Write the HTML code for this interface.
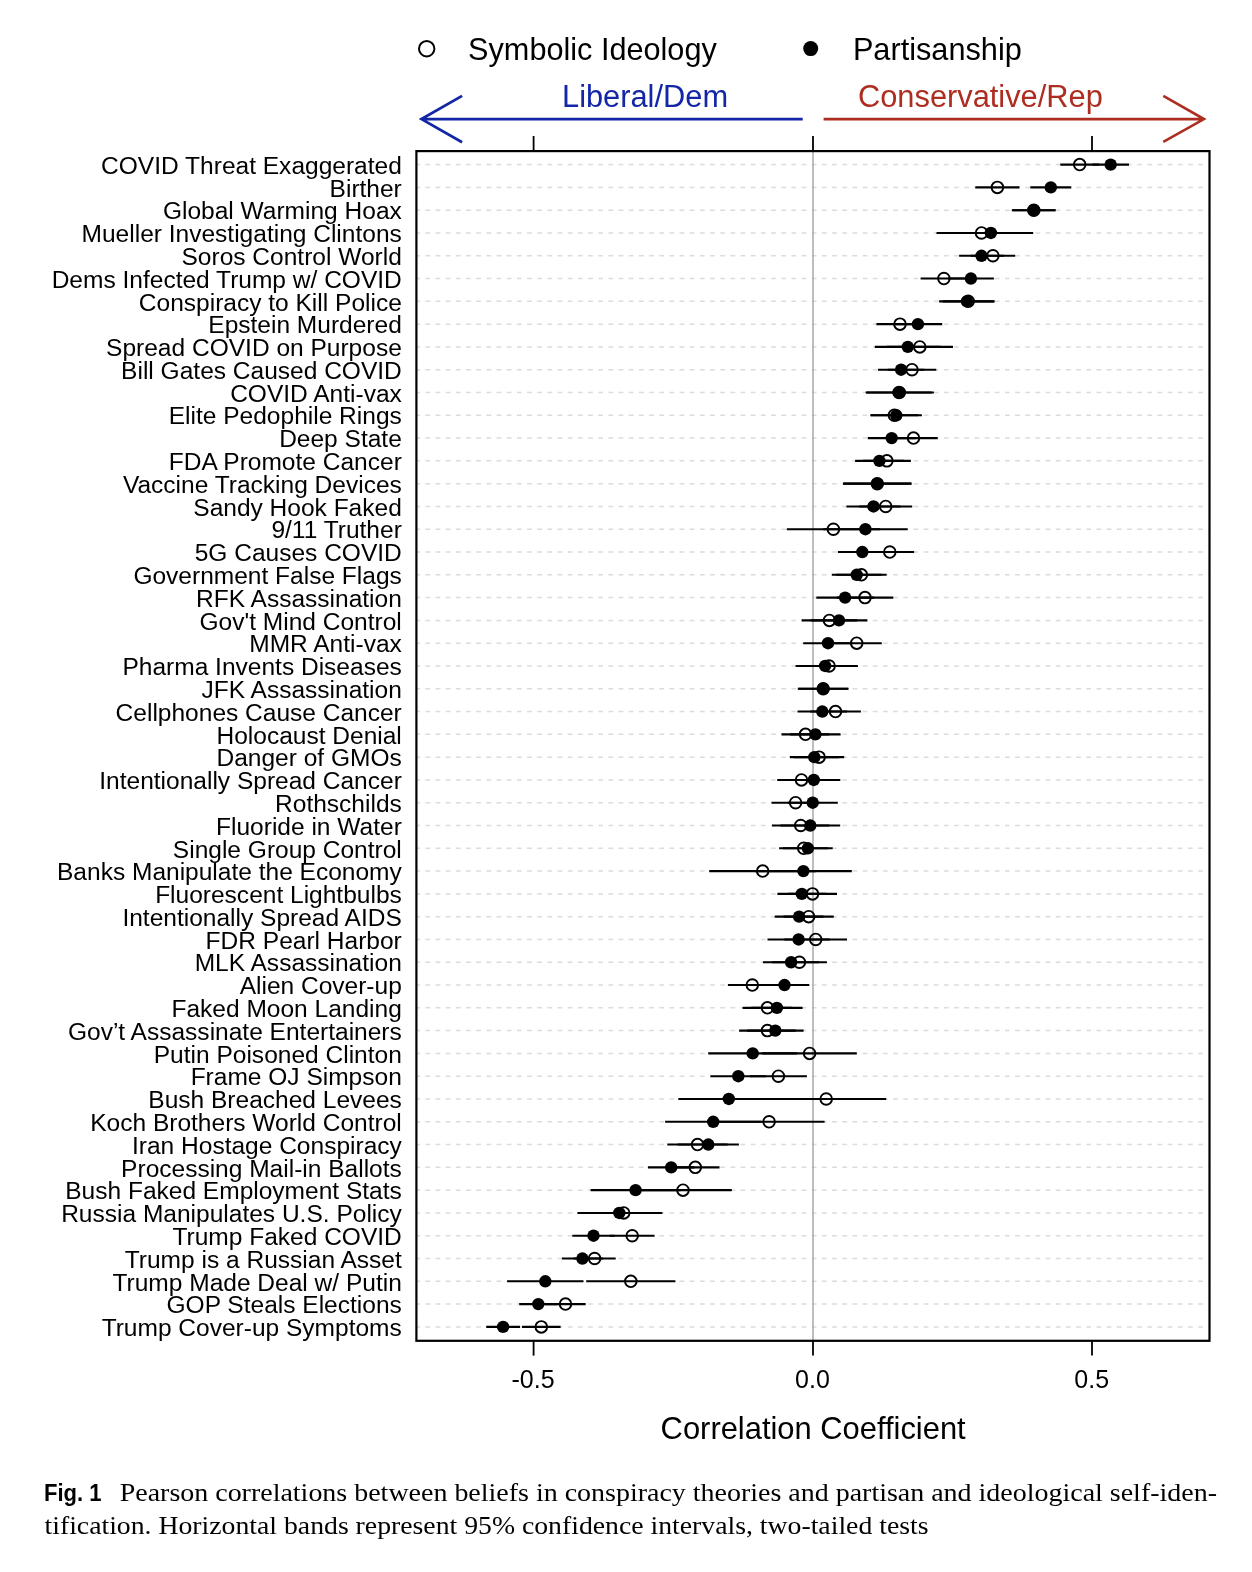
<!DOCTYPE html><html><head><meta charset="utf-8"><style>html,body{margin:0;padding:0;background:#fff}svg{display:block;will-change:transform}text{font-family:"Liberation Sans",sans-serif}</style></head><body>
<svg width="1252" height="1572" viewBox="0 0 1252 1572">
<rect x="0" y="0" width="1252" height="1572" fill="#fff"/>
<circle cx="426.7" cy="48.7" r="7.7" fill="none" stroke="#000" stroke-width="2"/>
<text x="468.1" y="60.0" font-size="30.65" fill="#000">Symbolic Ideology</text>
<circle cx="810.7" cy="48.6" r="7.5" fill="#000"/>
<text x="852.9" y="60.0" font-size="30.7" fill="#000">Partisanship</text>
<text x="562" y="106.9" font-size="30.8" fill="#1226a6">Liberal/Dem</text>
<text x="858" y="107.4" font-size="30.8" fill="#ad2d21">Conservative/Rep</text>
<path d="M802.7 119.1 H421.5 M462.1 95.9 L421.5 119.1 L462.1 142.2" fill="none" stroke="#1226a6" stroke-width="2.8" stroke-linejoin="miter"/>
<path d="M823.6 119.1 H1204 M1163.3 95.8 L1204 119.1 L1163.3 141.9" fill="none" stroke="#ad2d21" stroke-width="2.6" stroke-linejoin="miter"/>
<line x1="533.6" y1="136" x2="533.6" y2="151.1" stroke="#000" stroke-width="1.8"/>
<line x1="533.6" y1="1340.8" x2="533.6" y2="1355.6" stroke="#000" stroke-width="1.8"/>
<line x1="813.0" y1="136" x2="813.0" y2="151.1" stroke="#000" stroke-width="1.8"/>
<line x1="813.0" y1="1340.8" x2="813.0" y2="1355.6" stroke="#000" stroke-width="1.8"/>
<line x1="1092.0" y1="136" x2="1092.0" y2="151.1" stroke="#000" stroke-width="1.8"/>
<line x1="1092.0" y1="1340.8" x2="1092.0" y2="1355.6" stroke="#000" stroke-width="1.8"/>
<line x1="416.4" y1="164.60" x2="1209.5" y2="164.60" stroke="#dcdcdc" stroke-width="1.5" stroke-dasharray="4.8 5.368" stroke-dashoffset="1.2"/>
<line x1="416.4" y1="187.39" x2="1209.5" y2="187.39" stroke="#dcdcdc" stroke-width="1.5" stroke-dasharray="4.8 5.368" stroke-dashoffset="1.2"/>
<line x1="416.4" y1="210.18" x2="1209.5" y2="210.18" stroke="#dcdcdc" stroke-width="1.5" stroke-dasharray="4.8 5.368" stroke-dashoffset="1.2"/>
<line x1="416.4" y1="232.97" x2="1209.5" y2="232.97" stroke="#dcdcdc" stroke-width="1.5" stroke-dasharray="4.8 5.368" stroke-dashoffset="1.2"/>
<line x1="416.4" y1="255.76" x2="1209.5" y2="255.76" stroke="#dcdcdc" stroke-width="1.5" stroke-dasharray="4.8 5.368" stroke-dashoffset="1.2"/>
<line x1="416.4" y1="278.55" x2="1209.5" y2="278.55" stroke="#dcdcdc" stroke-width="1.5" stroke-dasharray="4.8 5.368" stroke-dashoffset="1.2"/>
<line x1="416.4" y1="301.34" x2="1209.5" y2="301.34" stroke="#dcdcdc" stroke-width="1.5" stroke-dasharray="4.8 5.368" stroke-dashoffset="1.2"/>
<line x1="416.4" y1="324.13" x2="1209.5" y2="324.13" stroke="#dcdcdc" stroke-width="1.5" stroke-dasharray="4.8 5.368" stroke-dashoffset="1.2"/>
<line x1="416.4" y1="346.92" x2="1209.5" y2="346.92" stroke="#dcdcdc" stroke-width="1.5" stroke-dasharray="4.8 5.368" stroke-dashoffset="1.2"/>
<line x1="416.4" y1="369.71" x2="1209.5" y2="369.71" stroke="#dcdcdc" stroke-width="1.5" stroke-dasharray="4.8 5.368" stroke-dashoffset="1.2"/>
<line x1="416.4" y1="392.50" x2="1209.5" y2="392.50" stroke="#dcdcdc" stroke-width="1.5" stroke-dasharray="4.8 5.368" stroke-dashoffset="1.2"/>
<line x1="416.4" y1="415.29" x2="1209.5" y2="415.29" stroke="#dcdcdc" stroke-width="1.5" stroke-dasharray="4.8 5.368" stroke-dashoffset="1.2"/>
<line x1="416.4" y1="438.08" x2="1209.5" y2="438.08" stroke="#dcdcdc" stroke-width="1.5" stroke-dasharray="4.8 5.368" stroke-dashoffset="1.2"/>
<line x1="416.4" y1="460.87" x2="1209.5" y2="460.87" stroke="#dcdcdc" stroke-width="1.5" stroke-dasharray="4.8 5.368" stroke-dashoffset="1.2"/>
<line x1="416.4" y1="483.66" x2="1209.5" y2="483.66" stroke="#dcdcdc" stroke-width="1.5" stroke-dasharray="4.8 5.368" stroke-dashoffset="1.2"/>
<line x1="416.4" y1="506.45" x2="1209.5" y2="506.45" stroke="#dcdcdc" stroke-width="1.5" stroke-dasharray="4.8 5.368" stroke-dashoffset="1.2"/>
<line x1="416.4" y1="529.24" x2="1209.5" y2="529.24" stroke="#dcdcdc" stroke-width="1.5" stroke-dasharray="4.8 5.368" stroke-dashoffset="1.2"/>
<line x1="416.4" y1="552.03" x2="1209.5" y2="552.03" stroke="#dcdcdc" stroke-width="1.5" stroke-dasharray="4.8 5.368" stroke-dashoffset="1.2"/>
<line x1="416.4" y1="574.82" x2="1209.5" y2="574.82" stroke="#dcdcdc" stroke-width="1.5" stroke-dasharray="4.8 5.368" stroke-dashoffset="1.2"/>
<line x1="416.4" y1="597.61" x2="1209.5" y2="597.61" stroke="#dcdcdc" stroke-width="1.5" stroke-dasharray="4.8 5.368" stroke-dashoffset="1.2"/>
<line x1="416.4" y1="620.40" x2="1209.5" y2="620.40" stroke="#dcdcdc" stroke-width="1.5" stroke-dasharray="4.8 5.368" stroke-dashoffset="1.2"/>
<line x1="416.4" y1="643.19" x2="1209.5" y2="643.19" stroke="#dcdcdc" stroke-width="1.5" stroke-dasharray="4.8 5.368" stroke-dashoffset="1.2"/>
<line x1="416.4" y1="665.98" x2="1209.5" y2="665.98" stroke="#dcdcdc" stroke-width="1.5" stroke-dasharray="4.8 5.368" stroke-dashoffset="1.2"/>
<line x1="416.4" y1="688.77" x2="1209.5" y2="688.77" stroke="#dcdcdc" stroke-width="1.5" stroke-dasharray="4.8 5.368" stroke-dashoffset="1.2"/>
<line x1="416.4" y1="711.56" x2="1209.5" y2="711.56" stroke="#dcdcdc" stroke-width="1.5" stroke-dasharray="4.8 5.368" stroke-dashoffset="1.2"/>
<line x1="416.4" y1="734.35" x2="1209.5" y2="734.35" stroke="#dcdcdc" stroke-width="1.5" stroke-dasharray="4.8 5.368" stroke-dashoffset="1.2"/>
<line x1="416.4" y1="757.14" x2="1209.5" y2="757.14" stroke="#dcdcdc" stroke-width="1.5" stroke-dasharray="4.8 5.368" stroke-dashoffset="1.2"/>
<line x1="416.4" y1="779.93" x2="1209.5" y2="779.93" stroke="#dcdcdc" stroke-width="1.5" stroke-dasharray="4.8 5.368" stroke-dashoffset="1.2"/>
<line x1="416.4" y1="802.72" x2="1209.5" y2="802.72" stroke="#dcdcdc" stroke-width="1.5" stroke-dasharray="4.8 5.368" stroke-dashoffset="1.2"/>
<line x1="416.4" y1="825.51" x2="1209.5" y2="825.51" stroke="#dcdcdc" stroke-width="1.5" stroke-dasharray="4.8 5.368" stroke-dashoffset="1.2"/>
<line x1="416.4" y1="848.30" x2="1209.5" y2="848.30" stroke="#dcdcdc" stroke-width="1.5" stroke-dasharray="4.8 5.368" stroke-dashoffset="1.2"/>
<line x1="416.4" y1="871.09" x2="1209.5" y2="871.09" stroke="#dcdcdc" stroke-width="1.5" stroke-dasharray="4.8 5.368" stroke-dashoffset="1.2"/>
<line x1="416.4" y1="893.88" x2="1209.5" y2="893.88" stroke="#dcdcdc" stroke-width="1.5" stroke-dasharray="4.8 5.368" stroke-dashoffset="1.2"/>
<line x1="416.4" y1="916.67" x2="1209.5" y2="916.67" stroke="#dcdcdc" stroke-width="1.5" stroke-dasharray="4.8 5.368" stroke-dashoffset="1.2"/>
<line x1="416.4" y1="939.46" x2="1209.5" y2="939.46" stroke="#dcdcdc" stroke-width="1.5" stroke-dasharray="4.8 5.368" stroke-dashoffset="1.2"/>
<line x1="416.4" y1="962.25" x2="1209.5" y2="962.25" stroke="#dcdcdc" stroke-width="1.5" stroke-dasharray="4.8 5.368" stroke-dashoffset="1.2"/>
<line x1="416.4" y1="985.04" x2="1209.5" y2="985.04" stroke="#dcdcdc" stroke-width="1.5" stroke-dasharray="4.8 5.368" stroke-dashoffset="1.2"/>
<line x1="416.4" y1="1007.83" x2="1209.5" y2="1007.83" stroke="#dcdcdc" stroke-width="1.5" stroke-dasharray="4.8 5.368" stroke-dashoffset="1.2"/>
<line x1="416.4" y1="1030.62" x2="1209.5" y2="1030.62" stroke="#dcdcdc" stroke-width="1.5" stroke-dasharray="4.8 5.368" stroke-dashoffset="1.2"/>
<line x1="416.4" y1="1053.41" x2="1209.5" y2="1053.41" stroke="#dcdcdc" stroke-width="1.5" stroke-dasharray="4.8 5.368" stroke-dashoffset="1.2"/>
<line x1="416.4" y1="1076.20" x2="1209.5" y2="1076.20" stroke="#dcdcdc" stroke-width="1.5" stroke-dasharray="4.8 5.368" stroke-dashoffset="1.2"/>
<line x1="416.4" y1="1098.99" x2="1209.5" y2="1098.99" stroke="#dcdcdc" stroke-width="1.5" stroke-dasharray="4.8 5.368" stroke-dashoffset="1.2"/>
<line x1="416.4" y1="1121.78" x2="1209.5" y2="1121.78" stroke="#dcdcdc" stroke-width="1.5" stroke-dasharray="4.8 5.368" stroke-dashoffset="1.2"/>
<line x1="416.4" y1="1144.57" x2="1209.5" y2="1144.57" stroke="#dcdcdc" stroke-width="1.5" stroke-dasharray="4.8 5.368" stroke-dashoffset="1.2"/>
<line x1="416.4" y1="1167.36" x2="1209.5" y2="1167.36" stroke="#dcdcdc" stroke-width="1.5" stroke-dasharray="4.8 5.368" stroke-dashoffset="1.2"/>
<line x1="416.4" y1="1190.15" x2="1209.5" y2="1190.15" stroke="#dcdcdc" stroke-width="1.5" stroke-dasharray="4.8 5.368" stroke-dashoffset="1.2"/>
<line x1="416.4" y1="1212.94" x2="1209.5" y2="1212.94" stroke="#dcdcdc" stroke-width="1.5" stroke-dasharray="4.8 5.368" stroke-dashoffset="1.2"/>
<line x1="416.4" y1="1235.73" x2="1209.5" y2="1235.73" stroke="#dcdcdc" stroke-width="1.5" stroke-dasharray="4.8 5.368" stroke-dashoffset="1.2"/>
<line x1="416.4" y1="1258.52" x2="1209.5" y2="1258.52" stroke="#dcdcdc" stroke-width="1.5" stroke-dasharray="4.8 5.368" stroke-dashoffset="1.2"/>
<line x1="416.4" y1="1281.31" x2="1209.5" y2="1281.31" stroke="#dcdcdc" stroke-width="1.5" stroke-dasharray="4.8 5.368" stroke-dashoffset="1.2"/>
<line x1="416.4" y1="1304.10" x2="1209.5" y2="1304.10" stroke="#dcdcdc" stroke-width="1.5" stroke-dasharray="4.8 5.368" stroke-dashoffset="1.2"/>
<line x1="416.4" y1="1326.89" x2="1209.5" y2="1326.89" stroke="#dcdcdc" stroke-width="1.5" stroke-dasharray="4.8 5.368" stroke-dashoffset="1.2"/>
<line x1="813.0" y1="151.1" x2="813.0" y2="1340.8" stroke="#a8a8a8" stroke-width="1.5"/>
<line x1="1060.3" y1="164.60" x2="1099.1" y2="164.60" stroke="#000" stroke-width="2.1"/>
<line x1="1092.4" y1="164.60" x2="1129.0" y2="164.60" stroke="#000" stroke-width="2.1"/>
<line x1="975.3" y1="187.39" x2="1019.5" y2="187.39" stroke="#000" stroke-width="2.1"/>
<line x1="1030.3" y1="187.39" x2="1071.3" y2="187.39" stroke="#000" stroke-width="2.1"/>
<line x1="1011.8" y1="210.18" x2="1055.8" y2="210.18" stroke="#000" stroke-width="2.1"/>
<line x1="1012.4" y1="210.18" x2="1055.2" y2="210.18" stroke="#000" stroke-width="2.1"/>
<line x1="936.5" y1="232.97" x2="1026.5" y2="232.97" stroke="#000" stroke-width="2.1"/>
<line x1="948.6" y1="232.97" x2="1033.2" y2="232.97" stroke="#000" stroke-width="2.1"/>
<line x1="959.1" y1="255.76" x2="1003.9" y2="255.76" stroke="#000" stroke-width="2.1"/>
<line x1="970.6" y1="255.76" x2="1015.2" y2="255.76" stroke="#000" stroke-width="2.1"/>
<line x1="920.6" y1="278.55" x2="967.2" y2="278.55" stroke="#000" stroke-width="2.1"/>
<line x1="947.9" y1="278.55" x2="993.9" y2="278.55" stroke="#000" stroke-width="2.1"/>
<line x1="939.1" y1="301.34" x2="994.7" y2="301.34" stroke="#000" stroke-width="2.1"/>
<line x1="942.6" y1="301.34" x2="993.8" y2="301.34" stroke="#000" stroke-width="2.1"/>
<line x1="876.4" y1="324.13" x2="923.6" y2="324.13" stroke="#000" stroke-width="2.1"/>
<line x1="893.6" y1="324.13" x2="942.2" y2="324.13" stroke="#000" stroke-width="2.1"/>
<line x1="874.8" y1="346.92" x2="940.8" y2="346.92" stroke="#000" stroke-width="2.1"/>
<line x1="886.6" y1="346.92" x2="953.0" y2="346.92" stroke="#000" stroke-width="2.1"/>
<line x1="878.0" y1="369.71" x2="924.2" y2="369.71" stroke="#000" stroke-width="2.1"/>
<line x1="887.7" y1="369.71" x2="936.3" y2="369.71" stroke="#000" stroke-width="2.1"/>
<line x1="866.5" y1="392.50" x2="931.5" y2="392.50" stroke="#000" stroke-width="2.1"/>
<line x1="865.7" y1="392.50" x2="933.9" y2="392.50" stroke="#000" stroke-width="2.1"/>
<line x1="870.4" y1="415.29" x2="918.4" y2="415.29" stroke="#000" stroke-width="2.1"/>
<line x1="870.7" y1="415.29" x2="921.9" y2="415.29" stroke="#000" stroke-width="2.1"/>
<line x1="867.8" y1="438.08" x2="915.6" y2="438.08" stroke="#000" stroke-width="2.1"/>
<line x1="889.3" y1="438.08" x2="937.7" y2="438.08" stroke="#000" stroke-width="2.1"/>
<line x1="855.1" y1="460.87" x2="903.7" y2="460.87" stroke="#000" stroke-width="2.1"/>
<line x1="862.9" y1="460.87" x2="910.9" y2="460.87" stroke="#000" stroke-width="2.1"/>
<line x1="843.2" y1="483.66" x2="911.4" y2="483.66" stroke="#000" stroke-width="2.1"/>
<line x1="843.1" y1="483.66" x2="911.5" y2="483.66" stroke="#000" stroke-width="2.1"/>
<line x1="846.4" y1="506.45" x2="900.6" y2="506.45" stroke="#000" stroke-width="2.1"/>
<line x1="859.2" y1="506.45" x2="912.2" y2="506.45" stroke="#000" stroke-width="2.1"/>
<line x1="786.8" y1="529.24" x2="880.0" y2="529.24" stroke="#000" stroke-width="2.1"/>
<line x1="823.1" y1="529.24" x2="907.7" y2="529.24" stroke="#000" stroke-width="2.1"/>
<line x1="837.9" y1="552.03" x2="886.7" y2="552.03" stroke="#000" stroke-width="2.1"/>
<line x1="865.5" y1="552.03" x2="914.1" y2="552.03" stroke="#000" stroke-width="2.1"/>
<line x1="831.8" y1="574.82" x2="881.6" y2="574.82" stroke="#000" stroke-width="2.1"/>
<line x1="836.2" y1="574.82" x2="886.6" y2="574.82" stroke="#000" stroke-width="2.1"/>
<line x1="816.3" y1="597.61" x2="873.9" y2="597.61" stroke="#000" stroke-width="2.1"/>
<line x1="836.7" y1="597.61" x2="893.3" y2="597.61" stroke="#000" stroke-width="2.1"/>
<line x1="801.6" y1="620.40" x2="857.2" y2="620.40" stroke="#000" stroke-width="2.1"/>
<line x1="810.6" y1="620.40" x2="867.4" y2="620.40" stroke="#000" stroke-width="2.1"/>
<line x1="803.2" y1="643.19" x2="852.8" y2="643.19" stroke="#000" stroke-width="2.1"/>
<line x1="831.6" y1="643.19" x2="881.8" y2="643.19" stroke="#000" stroke-width="2.1"/>
<line x1="795.6" y1="665.98" x2="854.6" y2="665.98" stroke="#000" stroke-width="2.1"/>
<line x1="800.3" y1="665.98" x2="857.9" y2="665.98" stroke="#000" stroke-width="2.1"/>
<line x1="798.4" y1="688.77" x2="848.0" y2="688.77" stroke="#000" stroke-width="2.1"/>
<line x1="797.8" y1="688.77" x2="848.6" y2="688.77" stroke="#000" stroke-width="2.1"/>
<line x1="797.5" y1="711.56" x2="847.1" y2="711.56" stroke="#000" stroke-width="2.1"/>
<line x1="810.1" y1="711.56" x2="860.9" y2="711.56" stroke="#000" stroke-width="2.1"/>
<line x1="781.5" y1="734.35" x2="829.5" y2="734.35" stroke="#000" stroke-width="2.1"/>
<line x1="790.2" y1="734.35" x2="840.6" y2="734.35" stroke="#000" stroke-width="2.1"/>
<line x1="789.8" y1="757.14" x2="838.8" y2="757.14" stroke="#000" stroke-width="2.1"/>
<line x1="794.0" y1="757.14" x2="844.2" y2="757.14" stroke="#000" stroke-width="2.1"/>
<line x1="777.2" y1="779.93" x2="825.8" y2="779.93" stroke="#000" stroke-width="2.1"/>
<line x1="787.3" y1="779.93" x2="840.3" y2="779.93" stroke="#000" stroke-width="2.1"/>
<line x1="771.5" y1="802.72" x2="819.7" y2="802.72" stroke="#000" stroke-width="2.1"/>
<line x1="787.6" y1="802.72" x2="837.8" y2="802.72" stroke="#000" stroke-width="2.1"/>
<line x1="772.0" y1="825.51" x2="829.4" y2="825.51" stroke="#000" stroke-width="2.1"/>
<line x1="780.4" y1="825.51" x2="840.2" y2="825.51" stroke="#000" stroke-width="2.1"/>
<line x1="779.1" y1="848.30" x2="828.3" y2="848.30" stroke="#000" stroke-width="2.1"/>
<line x1="783.1" y1="848.30" x2="832.7" y2="848.30" stroke="#000" stroke-width="2.1"/>
<line x1="709.2" y1="871.09" x2="816.2" y2="871.09" stroke="#000" stroke-width="2.1"/>
<line x1="755.0" y1="871.09" x2="851.8" y2="871.09" stroke="#000" stroke-width="2.1"/>
<line x1="777.4" y1="893.88" x2="826.2" y2="893.88" stroke="#000" stroke-width="2.1"/>
<line x1="788.0" y1="893.88" x2="837.0" y2="893.88" stroke="#000" stroke-width="2.1"/>
<line x1="774.7" y1="916.67" x2="823.5" y2="916.67" stroke="#000" stroke-width="2.1"/>
<line x1="783.6" y1="916.67" x2="833.8" y2="916.67" stroke="#000" stroke-width="2.1"/>
<line x1="767.5" y1="939.46" x2="829.7" y2="939.46" stroke="#000" stroke-width="2.1"/>
<line x1="784.4" y1="939.46" x2="847.0" y2="939.46" stroke="#000" stroke-width="2.1"/>
<line x1="763.0" y1="962.25" x2="819.2" y2="962.25" stroke="#000" stroke-width="2.1"/>
<line x1="771.9" y1="962.25" x2="826.9" y2="962.25" stroke="#000" stroke-width="2.1"/>
<line x1="727.9" y1="985.04" x2="776.7" y2="985.04" stroke="#000" stroke-width="2.1"/>
<line x1="759.7" y1="985.04" x2="809.3" y2="985.04" stroke="#000" stroke-width="2.1"/>
<line x1="742.6" y1="1007.83" x2="792.2" y2="1007.83" stroke="#000" stroke-width="2.1"/>
<line x1="751.2" y1="1007.83" x2="802.6" y2="1007.83" stroke="#000" stroke-width="2.1"/>
<line x1="739.1" y1="1030.62" x2="795.7" y2="1030.62" stroke="#000" stroke-width="2.1"/>
<line x1="747.0" y1="1030.62" x2="803.6" y2="1030.62" stroke="#000" stroke-width="2.1"/>
<line x1="708.2" y1="1053.41" x2="797.2" y2="1053.41" stroke="#000" stroke-width="2.1"/>
<line x1="762.4" y1="1053.41" x2="856.8" y2="1053.41" stroke="#000" stroke-width="2.1"/>
<line x1="710.4" y1="1076.20" x2="766.2" y2="1076.20" stroke="#000" stroke-width="2.1"/>
<line x1="749.9" y1="1076.20" x2="806.9" y2="1076.20" stroke="#000" stroke-width="2.1"/>
<line x1="678.3" y1="1098.99" x2="779.3" y2="1098.99" stroke="#000" stroke-width="2.1"/>
<line x1="766.2" y1="1098.99" x2="886.2" y2="1098.99" stroke="#000" stroke-width="2.1"/>
<line x1="665.1" y1="1121.78" x2="761.3" y2="1121.78" stroke="#000" stroke-width="2.1"/>
<line x1="713.6" y1="1121.78" x2="824.6" y2="1121.78" stroke="#000" stroke-width="2.1"/>
<line x1="667.3" y1="1144.57" x2="727.7" y2="1144.57" stroke="#000" stroke-width="2.1"/>
<line x1="677.7" y1="1144.57" x2="738.9" y2="1144.57" stroke="#000" stroke-width="2.1"/>
<line x1="647.9" y1="1167.36" x2="694.5" y2="1167.36" stroke="#000" stroke-width="2.1"/>
<line x1="671.1" y1="1167.36" x2="719.5" y2="1167.36" stroke="#000" stroke-width="2.1"/>
<line x1="590.6" y1="1190.15" x2="680.6" y2="1190.15" stroke="#000" stroke-width="2.1"/>
<line x1="634.2" y1="1190.15" x2="731.8" y2="1190.15" stroke="#000" stroke-width="2.1"/>
<line x1="577.4" y1="1212.94" x2="661.2" y2="1212.94" stroke="#000" stroke-width="2.1"/>
<line x1="585.0" y1="1212.94" x2="662.4" y2="1212.94" stroke="#000" stroke-width="2.1"/>
<line x1="572.3" y1="1235.73" x2="614.7" y2="1235.73" stroke="#000" stroke-width="2.1"/>
<line x1="609.8" y1="1235.73" x2="654.6" y2="1235.73" stroke="#000" stroke-width="2.1"/>
<line x1="561.9" y1="1258.52" x2="602.9" y2="1258.52" stroke="#000" stroke-width="2.1"/>
<line x1="573.5" y1="1258.52" x2="615.7" y2="1258.52" stroke="#000" stroke-width="2.1"/>
<line x1="507.1" y1="1281.31" x2="583.5" y2="1281.31" stroke="#000" stroke-width="2.1"/>
<line x1="586.2" y1="1281.31" x2="675.4" y2="1281.31" stroke="#000" stroke-width="2.1"/>
<line x1="519.2" y1="1304.10" x2="557.4" y2="1304.10" stroke="#000" stroke-width="2.1"/>
<line x1="545.3" y1="1304.10" x2="585.7" y2="1304.10" stroke="#000" stroke-width="2.1"/>
<line x1="486.2" y1="1326.89" x2="520.0" y2="1326.89" stroke="#000" stroke-width="2.1"/>
<line x1="522.0" y1="1326.89" x2="560.6" y2="1326.89" stroke="#000" stroke-width="2.1"/>
<circle cx="1110.7" cy="164.60" r="6.2" fill="#000"/>
<circle cx="1079.7" cy="164.60" r="5.8" fill="none" stroke="#000" stroke-width="1.9"/>
<circle cx="1050.8" cy="187.39" r="6.2" fill="#000"/>
<circle cx="997.4" cy="187.39" r="5.8" fill="none" stroke="#000" stroke-width="1.9"/>
<circle cx="1033.8" cy="210.18" r="6.2" fill="#000"/>
<circle cx="1033.8" cy="210.18" r="5.8" fill="none" stroke="#000" stroke-width="1.9"/>
<circle cx="990.9" cy="232.97" r="6.2" fill="#000"/>
<circle cx="981.5" cy="232.97" r="5.8" fill="none" stroke="#000" stroke-width="1.9"/>
<circle cx="981.5" cy="255.76" r="6.2" fill="#000"/>
<circle cx="992.9" cy="255.76" r="5.8" fill="none" stroke="#000" stroke-width="1.9"/>
<circle cx="970.9" cy="278.55" r="6.2" fill="#000"/>
<circle cx="943.9" cy="278.55" r="5.8" fill="none" stroke="#000" stroke-width="1.9"/>
<circle cx="966.9" cy="301.34" r="6.2" fill="#000"/>
<circle cx="968.2" cy="301.34" r="5.8" fill="none" stroke="#000" stroke-width="1.9"/>
<circle cx="917.9" cy="324.13" r="6.2" fill="#000"/>
<circle cx="900.0" cy="324.13" r="5.8" fill="none" stroke="#000" stroke-width="1.9"/>
<circle cx="907.8" cy="346.92" r="6.2" fill="#000"/>
<circle cx="919.8" cy="346.92" r="5.8" fill="none" stroke="#000" stroke-width="1.9"/>
<circle cx="901.1" cy="369.71" r="6.2" fill="#000"/>
<circle cx="912.0" cy="369.71" r="5.8" fill="none" stroke="#000" stroke-width="1.9"/>
<circle cx="899.8" cy="392.50" r="6.2" fill="#000"/>
<circle cx="899.0" cy="392.50" r="5.8" fill="none" stroke="#000" stroke-width="1.9"/>
<circle cx="896.3" cy="415.29" r="6.2" fill="#000"/>
<circle cx="894.4" cy="415.29" r="5.8" fill="none" stroke="#000" stroke-width="1.9"/>
<circle cx="891.7" cy="438.08" r="6.2" fill="#000"/>
<circle cx="913.5" cy="438.08" r="5.8" fill="none" stroke="#000" stroke-width="1.9"/>
<circle cx="879.4" cy="460.87" r="6.2" fill="#000"/>
<circle cx="886.9" cy="460.87" r="5.8" fill="none" stroke="#000" stroke-width="1.9"/>
<circle cx="877.3" cy="483.66" r="6.2" fill="#000"/>
<circle cx="877.3" cy="483.66" r="5.8" fill="none" stroke="#000" stroke-width="1.9"/>
<circle cx="873.5" cy="506.45" r="6.2" fill="#000"/>
<circle cx="885.7" cy="506.45" r="5.8" fill="none" stroke="#000" stroke-width="1.9"/>
<circle cx="865.4" cy="529.24" r="6.2" fill="#000"/>
<circle cx="833.4" cy="529.24" r="5.8" fill="none" stroke="#000" stroke-width="1.9"/>
<circle cx="862.3" cy="552.03" r="6.2" fill="#000"/>
<circle cx="889.8" cy="552.03" r="5.8" fill="none" stroke="#000" stroke-width="1.9"/>
<circle cx="856.7" cy="574.82" r="6.2" fill="#000"/>
<circle cx="861.4" cy="574.82" r="5.8" fill="none" stroke="#000" stroke-width="1.9"/>
<circle cx="845.1" cy="597.61" r="6.2" fill="#000"/>
<circle cx="865.0" cy="597.61" r="5.8" fill="none" stroke="#000" stroke-width="1.9"/>
<circle cx="839.0" cy="620.40" r="6.2" fill="#000"/>
<circle cx="829.4" cy="620.40" r="5.8" fill="none" stroke="#000" stroke-width="1.9"/>
<circle cx="828.0" cy="643.19" r="6.2" fill="#000"/>
<circle cx="856.7" cy="643.19" r="5.8" fill="none" stroke="#000" stroke-width="1.9"/>
<circle cx="825.1" cy="665.98" r="6.2" fill="#000"/>
<circle cx="829.1" cy="665.98" r="5.8" fill="none" stroke="#000" stroke-width="1.9"/>
<circle cx="823.2" cy="688.77" r="6.2" fill="#000"/>
<circle cx="823.2" cy="688.77" r="5.8" fill="none" stroke="#000" stroke-width="1.9"/>
<circle cx="822.3" cy="711.56" r="6.2" fill="#000"/>
<circle cx="835.5" cy="711.56" r="5.8" fill="none" stroke="#000" stroke-width="1.9"/>
<circle cx="815.4" cy="734.35" r="6.2" fill="#000"/>
<circle cx="805.5" cy="734.35" r="5.8" fill="none" stroke="#000" stroke-width="1.9"/>
<circle cx="814.3" cy="757.14" r="6.2" fill="#000"/>
<circle cx="819.1" cy="757.14" r="5.8" fill="none" stroke="#000" stroke-width="1.9"/>
<circle cx="813.8" cy="779.93" r="6.2" fill="#000"/>
<circle cx="801.5" cy="779.93" r="5.8" fill="none" stroke="#000" stroke-width="1.9"/>
<circle cx="812.7" cy="802.72" r="6.2" fill="#000"/>
<circle cx="795.6" cy="802.72" r="5.8" fill="none" stroke="#000" stroke-width="1.9"/>
<circle cx="810.3" cy="825.51" r="6.2" fill="#000"/>
<circle cx="800.7" cy="825.51" r="5.8" fill="none" stroke="#000" stroke-width="1.9"/>
<circle cx="807.9" cy="848.30" r="6.2" fill="#000"/>
<circle cx="803.7" cy="848.30" r="5.8" fill="none" stroke="#000" stroke-width="1.9"/>
<circle cx="803.4" cy="871.09" r="6.2" fill="#000"/>
<circle cx="762.7" cy="871.09" r="5.8" fill="none" stroke="#000" stroke-width="1.9"/>
<circle cx="801.8" cy="893.88" r="6.2" fill="#000"/>
<circle cx="812.5" cy="893.88" r="5.8" fill="none" stroke="#000" stroke-width="1.9"/>
<circle cx="799.1" cy="916.67" r="6.2" fill="#000"/>
<circle cx="808.7" cy="916.67" r="5.8" fill="none" stroke="#000" stroke-width="1.9"/>
<circle cx="798.6" cy="939.46" r="6.2" fill="#000"/>
<circle cx="815.7" cy="939.46" r="5.8" fill="none" stroke="#000" stroke-width="1.9"/>
<circle cx="791.1" cy="962.25" r="6.2" fill="#000"/>
<circle cx="799.4" cy="962.25" r="5.8" fill="none" stroke="#000" stroke-width="1.9"/>
<circle cx="784.5" cy="985.04" r="6.2" fill="#000"/>
<circle cx="752.3" cy="985.04" r="5.8" fill="none" stroke="#000" stroke-width="1.9"/>
<circle cx="776.9" cy="1007.83" r="6.2" fill="#000"/>
<circle cx="767.4" cy="1007.83" r="5.8" fill="none" stroke="#000" stroke-width="1.9"/>
<circle cx="775.3" cy="1030.62" r="6.2" fill="#000"/>
<circle cx="767.4" cy="1030.62" r="5.8" fill="none" stroke="#000" stroke-width="1.9"/>
<circle cx="752.7" cy="1053.41" r="6.2" fill="#000"/>
<circle cx="809.6" cy="1053.41" r="5.8" fill="none" stroke="#000" stroke-width="1.9"/>
<circle cx="738.3" cy="1076.20" r="6.2" fill="#000"/>
<circle cx="778.4" cy="1076.20" r="5.8" fill="none" stroke="#000" stroke-width="1.9"/>
<circle cx="728.8" cy="1098.99" r="6.2" fill="#000"/>
<circle cx="826.2" cy="1098.99" r="5.8" fill="none" stroke="#000" stroke-width="1.9"/>
<circle cx="713.2" cy="1121.78" r="6.2" fill="#000"/>
<circle cx="769.1" cy="1121.78" r="5.8" fill="none" stroke="#000" stroke-width="1.9"/>
<circle cx="708.3" cy="1144.57" r="6.2" fill="#000"/>
<circle cx="697.5" cy="1144.57" r="5.8" fill="none" stroke="#000" stroke-width="1.9"/>
<circle cx="671.2" cy="1167.36" r="6.2" fill="#000"/>
<circle cx="695.3" cy="1167.36" r="5.8" fill="none" stroke="#000" stroke-width="1.9"/>
<circle cx="635.6" cy="1190.15" r="6.2" fill="#000"/>
<circle cx="683.0" cy="1190.15" r="5.8" fill="none" stroke="#000" stroke-width="1.9"/>
<circle cx="619.3" cy="1212.94" r="6.2" fill="#000"/>
<circle cx="623.7" cy="1212.94" r="5.8" fill="none" stroke="#000" stroke-width="1.9"/>
<circle cx="593.5" cy="1235.73" r="6.2" fill="#000"/>
<circle cx="632.2" cy="1235.73" r="5.8" fill="none" stroke="#000" stroke-width="1.9"/>
<circle cx="582.4" cy="1258.52" r="6.2" fill="#000"/>
<circle cx="594.6" cy="1258.52" r="5.8" fill="none" stroke="#000" stroke-width="1.9"/>
<circle cx="545.3" cy="1281.31" r="6.2" fill="#000"/>
<circle cx="630.8" cy="1281.31" r="5.8" fill="none" stroke="#000" stroke-width="1.9"/>
<circle cx="538.3" cy="1304.10" r="6.2" fill="#000"/>
<circle cx="565.5" cy="1304.10" r="5.8" fill="none" stroke="#000" stroke-width="1.9"/>
<circle cx="503.1" cy="1326.89" r="6.2" fill="#000"/>
<circle cx="541.3" cy="1326.89" r="5.8" fill="none" stroke="#000" stroke-width="1.9"/>
<rect x="416.4" y="151.1" width="793.1" height="1189.7" fill="none" stroke="#000" stroke-width="2.2"/>
<text x="401.8" y="173.80" font-size="24.52" text-anchor="end" fill="#000">COVID Threat Exaggerated</text>
<text x="401.8" y="196.59" font-size="24.52" text-anchor="end" fill="#000">Birther</text>
<text x="401.8" y="219.38" font-size="24.52" text-anchor="end" fill="#000">Global Warming Hoax</text>
<text x="401.8" y="242.17" font-size="24.52" text-anchor="end" fill="#000">Mueller Investigating Clintons</text>
<text x="401.8" y="264.96" font-size="24.52" text-anchor="end" fill="#000">Soros Control World</text>
<text x="401.8" y="287.75" font-size="24.52" text-anchor="end" fill="#000">Dems Infected Trump w/ COVID</text>
<text x="401.8" y="310.54" font-size="24.52" text-anchor="end" fill="#000">Conspiracy to Kill Police</text>
<text x="401.8" y="333.33" font-size="24.52" text-anchor="end" fill="#000">Epstein Murdered</text>
<text x="401.8" y="356.12" font-size="24.52" text-anchor="end" fill="#000">Spread COVID on Purpose</text>
<text x="401.8" y="378.91" font-size="24.52" text-anchor="end" fill="#000">Bill Gates Caused COVID</text>
<text x="401.8" y="401.70" font-size="24.52" text-anchor="end" fill="#000">COVID Anti-vax</text>
<text x="401.8" y="424.49" font-size="24.52" text-anchor="end" fill="#000">Elite Pedophile Rings</text>
<text x="401.8" y="447.28" font-size="24.52" text-anchor="end" fill="#000">Deep State</text>
<text x="401.8" y="470.07" font-size="24.52" text-anchor="end" fill="#000">FDA Promote Cancer</text>
<text x="401.8" y="492.86" font-size="24.52" text-anchor="end" fill="#000">Vaccine Tracking Devices</text>
<text x="401.8" y="515.65" font-size="24.52" text-anchor="end" fill="#000">Sandy Hook Faked</text>
<text x="401.8" y="538.44" font-size="24.52" text-anchor="end" fill="#000">9/11 Truther</text>
<text x="401.8" y="561.23" font-size="24.52" text-anchor="end" fill="#000">5G Causes COVID</text>
<text x="401.8" y="584.02" font-size="24.52" text-anchor="end" fill="#000">Government False Flags</text>
<text x="401.8" y="606.81" font-size="24.52" text-anchor="end" fill="#000">RFK Assassination</text>
<text x="401.8" y="629.60" font-size="24.52" text-anchor="end" fill="#000">Gov&#39;t Mind Control</text>
<text x="401.8" y="652.39" font-size="24.52" text-anchor="end" fill="#000">MMR Anti-vax</text>
<text x="401.8" y="675.18" font-size="24.52" text-anchor="end" fill="#000">Pharma Invents Diseases</text>
<text x="401.8" y="697.97" font-size="24.52" text-anchor="end" fill="#000">JFK Assassination</text>
<text x="401.8" y="720.76" font-size="24.52" text-anchor="end" fill="#000">Cellphones Cause Cancer</text>
<text x="401.8" y="743.55" font-size="24.52" text-anchor="end" fill="#000">Holocaust Denial</text>
<text x="401.8" y="766.34" font-size="24.52" text-anchor="end" fill="#000">Danger of GMOs</text>
<text x="401.8" y="789.13" font-size="24.52" text-anchor="end" fill="#000">Intentionally Spread Cancer</text>
<text x="401.8" y="811.92" font-size="24.52" text-anchor="end" fill="#000">Rothschilds</text>
<text x="401.8" y="834.71" font-size="24.52" text-anchor="end" fill="#000">Fluoride in Water</text>
<text x="401.8" y="857.50" font-size="24.52" text-anchor="end" fill="#000">Single Group Control</text>
<text x="401.8" y="880.29" font-size="24.52" text-anchor="end" fill="#000">Banks Manipulate the Economy</text>
<text x="401.8" y="903.08" font-size="24.52" text-anchor="end" fill="#000">Fluorescent Lightbulbs</text>
<text x="401.8" y="925.87" font-size="24.52" text-anchor="end" fill="#000">Intentionally Spread AIDS</text>
<text x="401.8" y="948.66" font-size="24.52" text-anchor="end" fill="#000">FDR Pearl Harbor</text>
<text x="401.8" y="971.45" font-size="24.52" text-anchor="end" fill="#000">MLK Assassination</text>
<text x="401.8" y="994.24" font-size="24.52" text-anchor="end" fill="#000">Alien Cover-up</text>
<text x="401.8" y="1017.03" font-size="24.52" text-anchor="end" fill="#000">Faked Moon Landing</text>
<text x="401.8" y="1039.82" font-size="24.52" text-anchor="end" fill="#000">Gov’t Assassinate Entertainers</text>
<text x="401.8" y="1062.61" font-size="24.52" text-anchor="end" fill="#000">Putin Poisoned Clinton</text>
<text x="401.8" y="1085.40" font-size="24.52" text-anchor="end" fill="#000">Frame OJ Simpson</text>
<text x="401.8" y="1108.19" font-size="24.52" text-anchor="end" fill="#000">Bush Breached Levees</text>
<text x="401.8" y="1130.98" font-size="24.52" text-anchor="end" fill="#000">Koch Brothers World Control</text>
<text x="401.8" y="1153.77" font-size="24.52" text-anchor="end" fill="#000">Iran Hostage Conspiracy</text>
<text x="401.8" y="1176.56" font-size="24.52" text-anchor="end" fill="#000">Processing Mail-in Ballots</text>
<text x="401.8" y="1199.35" font-size="24.52" text-anchor="end" fill="#000">Bush Faked Employment Stats</text>
<text x="401.8" y="1222.14" font-size="24.52" text-anchor="end" fill="#000">Russia Manipulates U.S. Policy</text>
<text x="401.8" y="1244.93" font-size="24.52" text-anchor="end" fill="#000">Trump Faked COVID</text>
<text x="401.8" y="1267.72" font-size="24.52" text-anchor="end" fill="#000">Trump is a Russian Asset</text>
<text x="401.8" y="1290.51" font-size="24.52" text-anchor="end" fill="#000">Trump Made Deal w/ Putin</text>
<text x="401.8" y="1313.30" font-size="24.52" text-anchor="end" fill="#000">GOP Steals Elections</text>
<text x="401.8" y="1336.09" font-size="24.52" text-anchor="end" fill="#000">Trump Cover-up Symptoms</text>
<text x="533.0" y="1387.8" font-size="25" text-anchor="middle" fill="#000">-0.5</text>
<text x="812.5" y="1387.8" font-size="25" text-anchor="middle" fill="#000">0.0</text>
<text x="1091.7" y="1387.8" font-size="25" text-anchor="middle" fill="#000">0.5</text>
<text x="813.15" y="1439.1" font-size="30.9" text-anchor="middle" fill="#000">Correlation Coefficient</text>
<text x="44" y="1501.2" font-size="24" font-weight="bold" fill="#000" textLength="57.5" lengthAdjust="spacingAndGlyphs">Fig. 1</text>
<text x="119.7" y="1501.2" font-size="25" fill="#000" style="font-family:'Liberation Serif',serif" textLength="1097.3" lengthAdjust="spacingAndGlyphs">Pearson correlations between beliefs in conspiracy theories and partisan and ideological self-iden-</text>
<text x="44.5" y="1534.2" font-size="25" fill="#000" style="font-family:'Liberation Serif',serif" textLength="884" lengthAdjust="spacingAndGlyphs">tification. Horizontal bands represent 95% confidence intervals, two-tailed tests</text>
</svg></body></html>
